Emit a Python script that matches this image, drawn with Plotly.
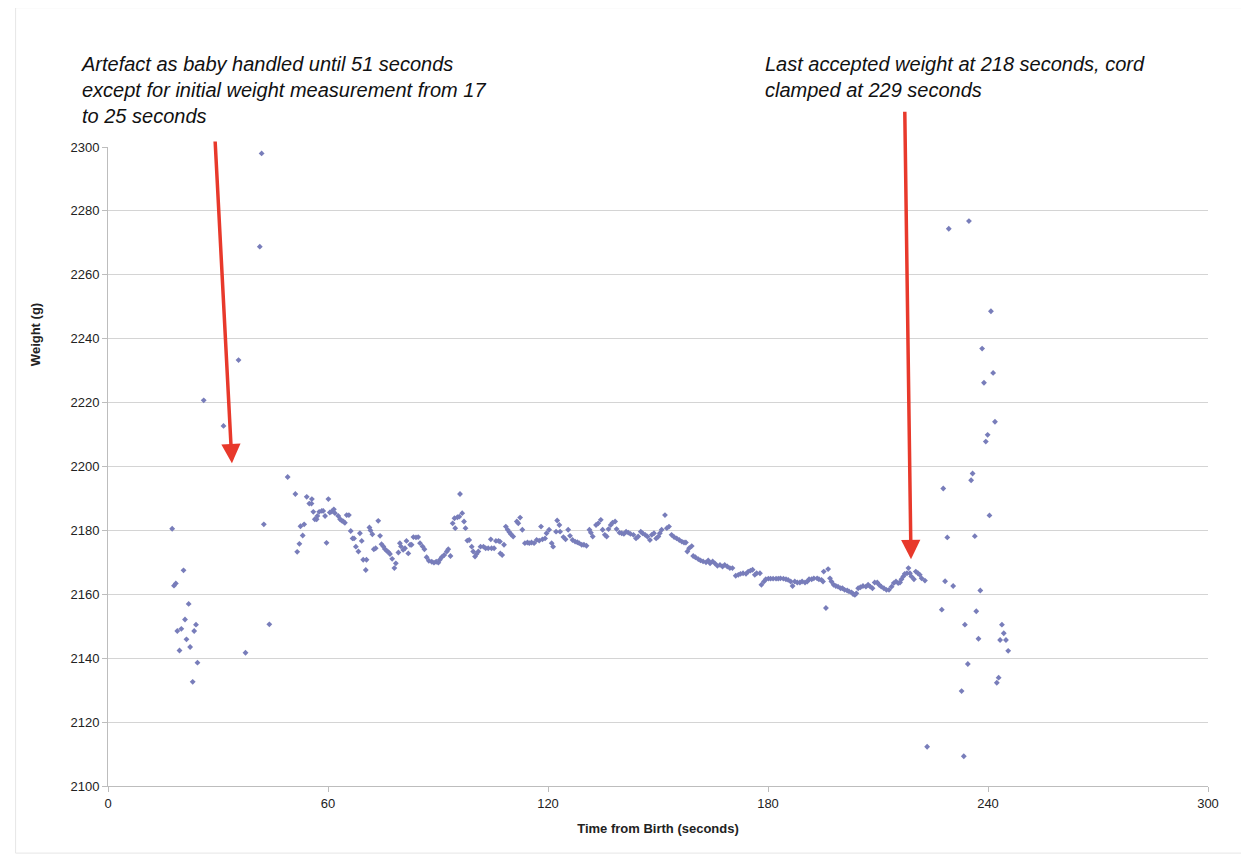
import plotly.graph_objects as go

# ---- data ----
t_early = [17.5, 18.0, 18.5, 18.9, 19.5, 20.0, 20.6, 21.0, 21.4, 22.0, 22.4, 23.1, 23.5, 24.0, 24.4,
           26.1, 31.5, 35.6, 37.5, 41.4, 41.9, 42.5, 44.0, 49.0]
w_early = [2180.5, 2162.7, 2163.4, 2148.5, 2142.4, 2149.2, 2167.5, 2152.1, 2145.9, 2157.0, 2143.5, 2132.6, 2148.5, 2150.5, 2138.6,
           2220.7, 2212.7, 2233.3, 2141.7, 2268.8, 2298.0, 2181.9, 2150.6, 2196.7]

t_main = [51.1, 51.6, 52.2, 52.5, 53.1, 53.5, 54.2, 54.9, 55.5, 55.6, 56.0, 56.4, 56.9, 57.1, 57.6, 58.3, 58.7, 59.2, 59.6, 60.1,
          60.5, 61.0, 61.6, 61.9, 62.8, 63.3, 63.7, 64.2, 64.6, 65.1, 65.7, 66.2, 66.7, 67.1, 67.6, 68.3, 68.7, 69.2, 69.6, 70.3,
          70.5, 71.3, 71.6, 72.1, 72.5, 73.0, 73.7, 74.2, 74.6, 75.1, 75.5, 76.0, 76.5, 76.9, 77.5, 78.1, 78.5, 79.2, 79.6, 79.9,
          80.5, 81.0, 81.4, 81.9, 82.4, 82.8, 83.3, 84.0, 84.6, 85.1, 85.8, 86.3, 86.9, 87.5, 88.3, 88.9, 89.5, 90.1, 90.5, 91.0,
          91.7, 92.4, 92.8, 93.4, 94.0, 94.5, 94.7, 95.3, 95.8, 96.0, 96.6, 97.1, 97.5, 98.0, 98.5, 99.2, 99.6, 100.1, 100.5, 101.0,
          101.6, 102.4, 103.0, 103.7, 104.4, 104.6, 105.3, 105.8, 106.5, 106.9, 107.0, 107.5, 108.0, 108.5, 109.0, 109.5, 109.9, 110.5, 111.5, 111.9,
          112.4, 113.0, 113.7, 114.4, 114.9, 115.5, 116.2, 116.9, 117.6, 118.1, 118.5, 119.2, 119.6, 120.3, 121.0, 121.4, 122.2, 122.5, 123.1, 123.3,
          124.2, 124.8, 125.5, 126.0, 126.7, 127.4, 128.0, 128.5, 129.2, 129.8, 130.5, 131.3, 131.7, 132.2, 133.1, 133.7, 134.4, 134.9, 135.5, 136.0,
          136.5, 137.1, 137.6, 138.3, 138.7, 139.5, 140.1, 140.7, 141.3, 141.9, 142.5, 143.3, 144.0, 144.6, 145.3, 145.8, 146.5, 147.1, 147.8, 148.3,
          148.9, 149.5, 150.1, 150.5, 151.0, 151.9, 152.4, 153.0, 153.7, 154.4, 155.1, 155.8, 156.5, 157.1, 157.6, 158.0, 158.5, 159.2, 159.6, 160.2,
          161.0, 161.6, 162.3, 163.1, 163.7, 164.2, 164.9, 165.5, 166.2, 166.9, 167.6, 168.2, 168.9, 169.6, 170.3, 171.2, 171.9, 172.5, 173.2, 174.0,
          174.6, 175.2, 175.8, 176.4, 176.9, 177.8, 178.2, 178.9, 179.4, 180.1, 180.7, 181.4, 182.2, 182.8, 183.4, 184.2, 184.9, 185.5, 186.2, 186.7,
          187.3, 188.0, 188.7, 189.3, 190.1, 190.7, 191.2, 191.9, 192.5, 193.4, 193.9, 194.6, 195.0, 195.2, 195.8, 196.4, 196.9, 197.3, 197.9, 198.5,
          199.1, 199.8, 200.3, 200.9, 201.6, 202.1, 202.8, 203.2, 203.7, 204.1, 204.6, 205.2, 205.9, 206.7, 207.3, 207.9, 208.5, 209.1, 209.8, 210.3,
          210.9, 211.6, 212.3, 213.0, 213.7, 214.3, 214.9, 215.5, 216.0, 216.4, 216.9, 217.3, 217.9, 218.3, 218.7, 219.1, 219.8, 220.3, 220.9, 221.4,
          221.9, 222.8]
w_main = [2191.4, 2173.3, 2175.8, 2181.3, 2178.4, 2181.9, 2190.5, 2188.4, 2188.4, 2189.8, 2185.8, 2183.5, 2183.5, 2184.5, 2185.8, 2186.1, 2186.1, 2184.5, 2176.1, 2189.8,
          2185.6, 2185.9, 2186.6, 2185.4, 2184.5, 2183.5, 2183.1, 2182.8, 2182.4, 2184.8, 2184.8, 2179.8, 2177.5, 2177.5, 2174.9, 2173.4, 2179.1, 2176.7, 2170.8, 2167.6,
          2170.8, 2180.9, 2180.0, 2178.8, 2174.1, 2174.4, 2183.0, 2178.3, 2175.7, 2175.0, 2174.2, 2173.6, 2173.2, 2172.6, 2171.1, 2168.2, 2169.7, 2173.1, 2176.0, 2175.0,
          2173.9, 2174.4, 2176.7, 2172.8, 2175.5, 2175.5, 2177.9, 2177.8, 2177.9, 2176.0, 2175.0, 2174.1, 2171.6, 2170.5, 2170.2, 2169.9, 2170.2, 2169.9, 2170.8, 2171.6,
          2172.3, 2173.4, 2174.1, 2172.0, 2182.2, 2183.8, 2180.7, 2184.1, 2184.3, 2191.4, 2185.4, 2182.8, 2180.7, 2176.8, 2177.0, 2174.9, 2173.4, 2171.8, 2172.6, 2173.4,
          2174.9, 2174.9, 2174.4, 2174.4, 2177.2, 2174.4, 2174.4, 2176.7, 2176.7, 2176.5, 2172.8, 2172.3, 2175.5, 2181.2, 2180.2, 2179.4, 2178.8, 2178.1, 2182.8, 2182.2,
          2184.0, 2180.2, 2176.0, 2176.2, 2176.0, 2176.2, 2176.0, 2177.0, 2176.8, 2181.2, 2177.2, 2177.5, 2179.1, 2180.2, 2176.0, 2174.9, 2179.6, 2183.1, 2181.7, 2179.6,
          2177.9, 2177.2, 2180.2, 2178.3, 2177.0, 2176.5, 2176.3, 2176.0, 2175.5, 2175.5, 2175.2, 2180.2, 2179.3, 2178.1, 2181.7, 2182.2, 2183.3, 2180.2, 2178.6, 2178.1,
          2180.4, 2181.7, 2182.4, 2182.8, 2180.4, 2179.3, 2179.1, 2178.9, 2179.6, 2179.3, 2178.9, 2178.6, 2177.5, 2178.1, 2179.6, 2179.1, 2178.6, 2178.1, 2177.0, 2178.6,
          2179.1, 2177.5, 2178.1, 2179.1, 2180.2, 2184.8, 2180.7, 2181.2, 2178.6, 2177.9, 2177.5, 2177.0, 2176.5, 2176.2, 2176.2, 2173.4, 2174.4, 2175.1, 2172.0, 2171.6,
          2171.0, 2170.6, 2170.3, 2170.0, 2170.6, 2169.7, 2170.3, 2169.7, 2168.9, 2169.2, 2168.7, 2169.2, 2168.7, 2168.2, 2168.2, 2165.8, 2166.1, 2166.4, 2166.6, 2166.4,
          2167.1, 2167.4, 2167.7, 2166.1, 2166.6, 2166.6, 2163.0, 2164.0, 2164.7, 2164.9, 2164.9, 2164.9, 2164.9, 2164.9, 2165.0, 2164.9, 2164.7, 2164.5, 2164.0, 2162.6,
          2164.0, 2163.7, 2163.7, 2164.0, 2163.7, 2164.0, 2164.7, 2164.7, 2165.0, 2165.0, 2164.7, 2164.5, 2164.0, 2167.1, 2155.7, 2167.9, 2165.0, 2164.0, 2163.0, 2162.6,
          2162.4, 2161.9, 2161.9, 2161.4, 2161.2, 2160.9, 2160.6, 2160.1, 2159.8, 2160.3, 2161.9, 2162.2, 2162.6, 2162.4, 2163.0, 2162.4, 2161.9, 2163.7, 2163.7, 2163.0,
          2162.4, 2161.9, 2161.4, 2161.4, 2162.4, 2163.5, 2164.0, 2163.5, 2163.7, 2164.7, 2165.6, 2166.4, 2166.6, 2168.2, 2166.6, 2165.6, 2164.7, 2167.1, 2166.6, 2166.1,
          2165.0, 2164.3]

t_late = [223.4, 227.4, 227.8, 228.3, 228.9, 229.3, 230.5, 232.8, 233.4, 233.7, 234.5, 234.8, 235.4, 235.8, 236.4, 236.8, 237.4,
          237.9, 238.4, 238.9, 239.4, 239.9, 240.4, 240.8, 241.4, 241.9, 242.4, 242.9, 243.3, 243.8, 244.3, 244.9, 245.5]
w_late = [2112.3, 2155.2, 2193.1, 2164.1, 2177.8, 2274.4, 2162.6, 2129.7, 2109.3, 2150.5, 2138.2, 2276.8, 2195.7, 2197.8, 2178.2, 2154.7, 2146.1,
          2161.2, 2236.9, 2226.2, 2207.8, 2209.9, 2184.7, 2248.6, 2229.3, 2214.0, 2132.3, 2133.9, 2145.7, 2150.5, 2147.8, 2145.7, 2142.3]

x_ticks = [0, 60, 120, 180, 240, 300]
y_ticks = [2100, 2120, 2140, 2160, 2180, 2200, 2220, 2240, 2260, 2280, 2300]

note1 = "Artefact as baby handled until 51 seconds<br>except for initial weight measurement from 17<br>to 25 seconds"
note2 = "Last accepted weight at 218 seconds, cord<br>clamped at 229 seconds"
# arrow tails / heads in data units
arrow1 = dict(tail=(29.2, 2302.2), head=(33.8, 2201.0))
arrow2 = dict(tail=(217.3, 2311.5), head=(219.0, 2171.0))

MARK = dict(symbol="diamond", size=4.5, color="rgb(120,125,186)")
FONT = "Liberation Sans, Arial, sans-serif"

fig = go.Figure()
for tx, wy in ((t_early, w_early), (t_main, w_main), (t_late, w_late)):
    fig.add_trace(go.Scatter(x=tx, y=wy, mode="markers", marker=MARK,
                             showlegend=False, hoverinfo="x+y"))

fig.update_layout(
    width=1249, height=857,
    margin=dict(l=100, r=49, t=139, b=79),
    paper_bgcolor="white", plot_bgcolor="white",
    font=dict(family=FONT, size=13, color="#222"),
    xaxis=dict(range=[0, 300], tickvals=x_ticks, showgrid=False, zeroline=False,
               showline=True, linecolor="#bdbdbd", linewidth=1,
               ticks="outside", ticklen=5, tickcolor="#bdbdbd",
               tickfont=dict(size=13, family=FONT),
               title=dict(text="<b>Time from Birth (seconds)</b>", standoff=14,
                          font=dict(size=13, family=FONT))),
    yaxis=dict(range=[2100, 2300], tickvals=y_ticks, showgrid=True, gridcolor="#d4d4d4",
               gridwidth=1, zeroline=False, showline=True, linecolor="#bdbdbd", linewidth=1,
               ticks="outside", ticklen=5, tickcolor="#bdbdbd",
               tickfont=dict(size=13, family=FONT)),
)

fig.add_annotation(text="<b>Weight (g)</b>", xref="paper", yref="paper",
                   x=-0.075, y=0.758, textangle=-90, showarrow=False,
                   font=dict(size=13, family=FONT))

fig.add_annotation(text="<i>" + note1 + "</i>", xref="paper", yref="paper",
                   x=-0.026, y=1.15, xanchor="left", yanchor="top", align="left",
                   showarrow=False, font=dict(size=20, family=FONT, color="#111"))
fig.add_annotation(text="<i>" + note2 + "</i>", xref="paper", yref="paper",
                   x=0.595, y=1.15, xanchor="left", yanchor="top", align="left",
                   showarrow=False, font=dict(size=20, family=FONT, color="#111"))

for a in (arrow1, arrow2):
    fig.add_annotation(x=a["head"][0], y=a["head"][1], ax=a["tail"][0], ay=a["tail"][1],
                       xref="x", yref="y", axref="x", ayref="y", text="",
                       showarrow=True, arrowhead=2, arrowsize=1.1, arrowwidth=3.5,
                       arrowcolor="#e8392b")

# faint chart-area frame
fig.add_shape(type="rect", xref="paper", yref="paper",
              x0=-0.084, x1=1.033, y0=-0.105, y1=1.218,
              line=dict(color="#e6e6e6", width=1), layer="below")

fig.write_html("out.html")
